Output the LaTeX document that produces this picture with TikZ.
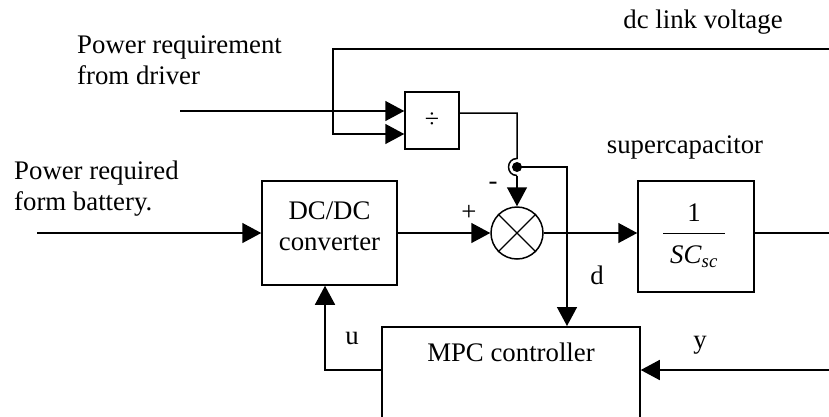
\documentclass[tikz,border=0pt]{standalone}
\usepackage{fontspec}
\setmainfont{Liberation Serif}
\usetikzlibrary{arrows.meta,calc}
\begin{document}
\begin{tikzpicture}[x=1pt,y=-1pt,
  every node/.style={font=\fontsize{26.8}{31}\selectfont, inner sep=0pt},
  blk/.style={draw, line width=1.5pt, rectangle},
  wire/.style={line width=1.5pt},
  arr/.style={line width=1.5pt, -{Triangle[length=19pt,width=20pt]}}]
\useasboundingbox (0,0) rectangle (829,416);
\clip (0,0) rectangle (829,416);
% blocks
\node[blk, minimum width=135pt, minimum height=104pt, align=center] (dcdc) at (329.5,233) {};
\node[align=center] (dcdctext) at (329.5,226) {DC/DC\\converter};
\node[blk, minimum width=54pt, minimum height=57pt, font=\fontsize{26}{28}\selectfont] (div) at (432,120.5) {÷};
\node[draw, circle, line width=1.5pt, minimum size=52pt] (mult) at (517,233) {};
\draw[line width=1.2pt] (mult.north east) -- (mult.south west) (mult.north west) -- (mult.south east);
\node[blk, minimum width=116pt, minimum height=111pt] (sc) at (696,236.5) {};
\node (scnum) at (694,213) {1};
\node (scden) at (694,257) {\textit{SC}\textsubscript{\textit{sc}}};
\draw[line width=1pt] (663,233) -- (725,233);
\node[blk, minimum width=258pt, minimum height=134pt, anchor=north] (mpc) at (511,326) {};
\node (mpctext) at (511,352) {MPC controller};
% texts
\node[align=left, anchor=west] (t1) at (77,60) {Power requirement\\from driver};
\node[align=left, anchor=west] (t2) at (14,189) {Power required\\form battery.};
\node (t3) at (703,22) {dc link voltage};
\node (t4) at (685,147) {supercapacitor};
\node (lplus) at (469,213) {+};
\node (lminus) at (493,186) {-};
\node (ld) at (597,275) {d};
\node (lu) at (352,338) {u};
\node (ly) at (700,345) {y};
% coordinates
\coordinate (bin) at (37,233);
\coordinate (drv) at (180,111);
\coordinate (link) at (829,49);
\coordinate (lk1) at (333,49);
\coordinate (lk2) at (333,134);
\coordinate (scout) at (829,233);
\coordinate (dout) at (459,113);
\coordinate (dturn) at (517,113);
\coordinate (jn) at (517,167);
\coordinate (jtop) at (517,158.5);
\coordinate (jbot) at (517,175.5);
\coordinate (dtap) at (567,167);
\coordinate (yin) at (829,370);
\coordinate (ucorner) at (325,370);
% connectors
\draw[arr] (bin) -- (dcdc.west);
\draw[arr] (dcdc.east) -- (mult.west);
\draw[arr] (mult.east) -- (mult.east -| sc.west);
\draw[wire] (scout -| sc.east) -- (scout);
\draw[arr] (drv) -- (drv -| div.west);
\draw[arr] (link) -- (lk1) -- (lk2) -- (lk2 -| div.west);
\draw[wire] (dout) -- (dturn) -- (jtop) to[out=180,in=180,looseness=1.7] (jbot);
\draw[arr] (jbot) -- (mult.north);
\fill (jn) circle (5);
\draw[arr] (jn) -- (dtap) -- (dtap |- mpc.north);
\draw[arr] (ucorner -| mpc.west) -- (ucorner) -- (ucorner |- dcdc.south);
\draw[arr] (yin) -- (yin -| mpc.east);
\end{tikzpicture}
\end{document}
